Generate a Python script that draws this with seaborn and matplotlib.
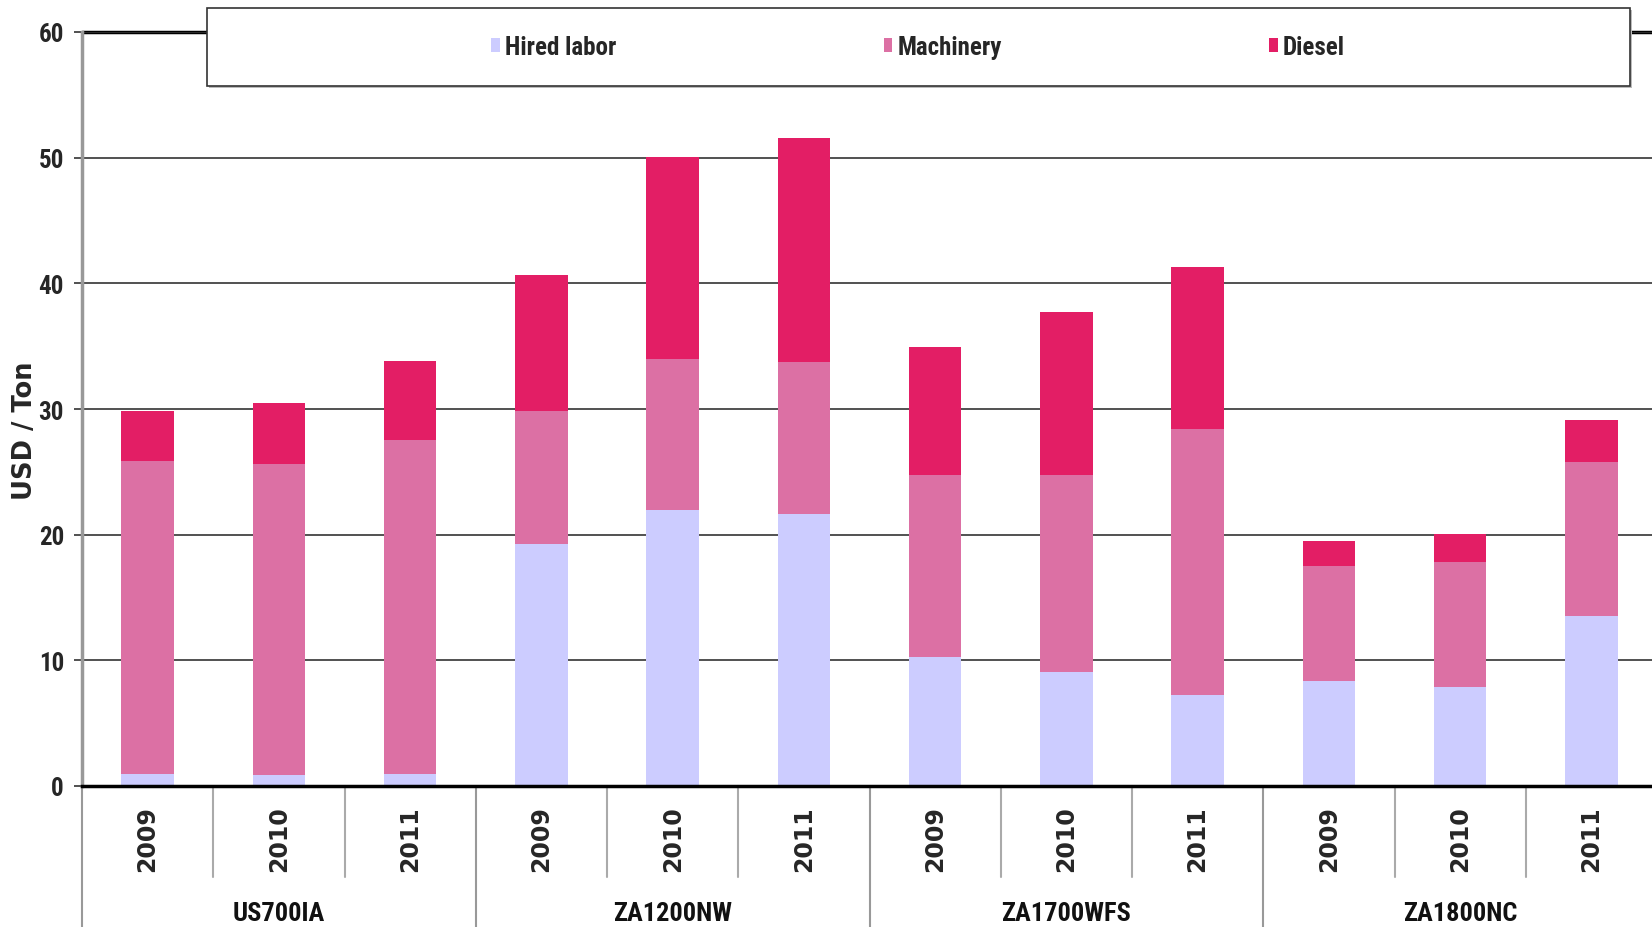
import numpy as np
import pandas as pd
import seaborn as sns
import matplotlib
matplotlib.use("Agg")
import matplotlib.pyplot as plt
from matplotlib.patches import Patch, Rectangle
from matplotlib.transforms import blended_transform_factory

# Cost components per farm and year (USD / ton)
farms = ["US700IA", "ZA1200NW", "ZA1700WFS", "ZA1800NC"]
years = ["2009", "2010", "2011"]
hired_labor = [0.98, 0.84, 0.98, 19.26, 21.97, 21.64, 10.26, 9.09, 7.24, 8.32, 7.90, 13.52]
machinery = [24.88, 24.80, 26.59, 10.60, 12.00, 12.11, 14.51, 15.68, 21.18, 9.21, 9.94, 12.23]
diesel = [3.97, 4.83, 6.21, 10.81, 16.07, 17.82, 10.15, 12.96, 12.87, 1.93, 2.23, 3.34]

series_names = ["Hired labor", "Machinery", "Diesel"]
series_colors = ["#CCCCFF", "#DC70A4", "#E31E65"]
y_ticks = [0, 10, 20, 30, 40, 50, 60]
y_label = "USD / Ton"

keys = [f"{f} {y}" for f in farms for y in years]
df = pd.DataFrame({
    "key": keys,
    "hired": hired_labor,
    "machinery": machinery,
    "diesel": diesel,
})

sns.set_style("white")
narrow = ["Roboto Condensed", "DejaVu Sans"]
wide = ["DejaVu Sans"]
plt.rcParams["font.family"] = narrow
plt.rcParams["font.weight"] = "bold"

fig = plt.figure(figsize=(16.52, 9.28), dpi=100)
ax = fig.add_axes([82 / 1652, 141 / 928, 1575 / 1652, 754 / 928])

hired = df["hired"].to_numpy()
mach = df["machinery"].to_numpy()
sns.barplot(data=df, x="key", y="hired", order=keys, color=series_colors[0],
            width=0.4, linewidth=0, errorbar=None, saturation=1, ax=ax)
sns.barplot(data=df, x="key", y="machinery", order=keys, color=series_colors[1],
            width=0.4, linewidth=0, errorbar=None, saturation=1, bottom=hired, ax=ax)
sns.barplot(data=df, x="key", y="diesel", order=keys, color=series_colors[2],
            width=0.4, linewidth=0, errorbar=None, saturation=1, bottom=hired + mach, ax=ax)

ax.set_xlim(-0.5, len(keys) - 0.5)
ax.set_ylim(0, 60)
ax.set_yticks(y_ticks)
ax.set_yticklabels([str(t) for t in y_ticks], fontsize=18, fontweight="bold",
                   family=narrow)
ax.set_axisbelow(True)
ax.yaxis.grid(True, color="#333333", lw=1.2)
ax.axhline(60, color="black", lw=2.5, clip_on=False, zorder=0.5)

# Year labels under each bar
ax.set_xticks(range(len(keys)))
ax.set_xticklabels([y for _ in farms for y in years], rotation=90,
                   fontsize=17, fontweight="bold", family=wide,
                   va="top", ha="center")
ax.tick_params(axis="x", length=0, pad=14)
ax.tick_params(axis="y", left=True, length=6, width=1.2, color="#333333",
               direction="out", pad=7)
ax.set_xlabel("")

ax.set_ylabel(y_label, fontsize=18.5, fontweight="bold", family=wide)
ax.yaxis.set_label_coords(-0.028, 0.472)

for side in ["top", "right"]:
    ax.spines[side].set_visible(False)
ax.spines["bottom"].set_color("black")
ax.spines["bottom"].set_linewidth(2.5)
ax.spines["bottom"].set_zorder(3)
ax.spines["left"].set_color("#999999")
ax.spines["left"].set_linewidth(2.5)

# Category separators below the axis
trans = blended_transform_factory(ax.transData, ax.transAxes)
for i in range(len(keys) + 1):
    xpos = i - 0.5
    if i % 3 == 0:
        ax.plot([xpos, xpos], [0, -0.2], transform=trans, color="#999999",
                lw=1.5, clip_on=False, zorder=1)
    else:
        ax.plot([xpos, xpos], [0, -0.1207], transform=trans, color="#AAAAAA",
                lw=1.5, clip_on=False, zorder=1)

# Farm labels centred on each group
for g, farm in enumerate(farms):
    ax.text(g * 3 + 1, -0.169, farm, transform=trans, ha="center", va="center",
            fontsize=19, fontweight="bold", color="#111111", family=narrow)

# Legend box across the top
fig.add_artist(Rectangle((209 / 1652, (928 - 89) / 928), 1423 / 1652, 78 / 928,
                         transform=fig.transFigure, facecolor="#BBBBBB",
                         edgecolor="none", zorder=4))
fig.add_artist(Rectangle((207 / 1652, (928 - 87) / 928), 1423 / 1652, 78 / 928,
                         transform=fig.transFigure, facecolor="white",
                         edgecolor="#333333", lw=1.2, zorder=5))
handles = [Patch(facecolor=c, edgecolor="none", label=n)
           for c, n in zip(series_colors, series_names)]
leg = fig.legend(handles=handles, loc="center", bbox_to_anchor=(918 / 1652, (928 - 48) / 928),
                 ncol=3, frameon=False, handlelength=0.35,
                 handleheight=0.5, handletextpad=0.2, columnspacing=10.7,
                 prop={"family": narrow, "weight": "bold", "size": 18})
leg.set_zorder(6)

fig.savefig("out.png", dpi=100)
